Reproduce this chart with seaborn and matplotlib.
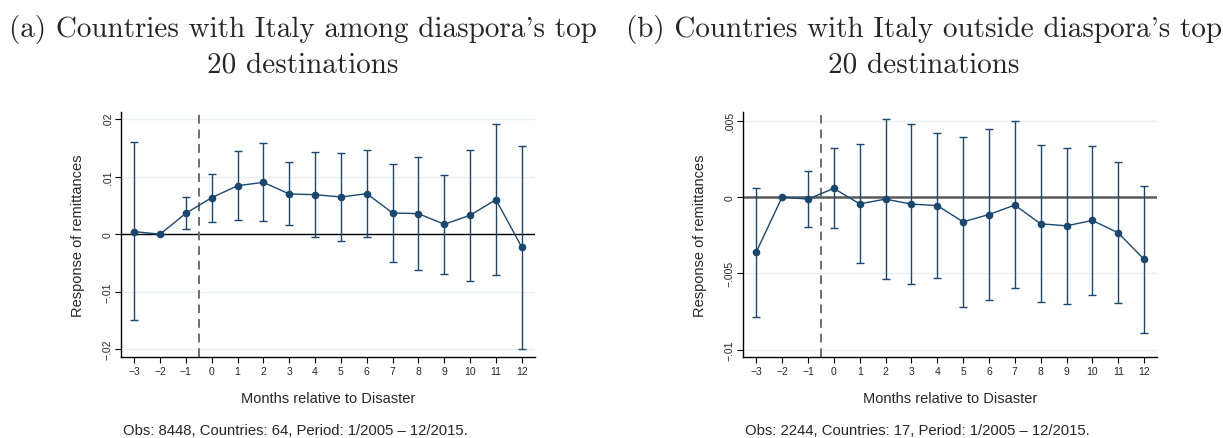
import numpy as np
import pandas as pd
import matplotlib
matplotlib.use("Agg")
import matplotlib.pyplot as plt
from matplotlib.ticker import FixedLocator, FuncFormatter
import seaborn as sns

# Event-study estimates: months relative to the disaster
months = [-3, -2, -1, 0, 1, 2, 3, 4, 5, 6, 7, 8, 9, 10, 11, 12]

# (a) Italy among the diaspora's top 20 destinations
coef_a = [0.00046, 0.0, 0.00364, 0.00636, 0.00844, 0.00902, 0.0070, 0.00688,
          0.00647, 0.00705, 0.0037, 0.00358, 0.00173, 0.0033, 0.00601, -0.00225]
hi_a = [0.0160, 0.0, 0.00653, 0.0105, 0.0144, 0.0158, 0.01249, 0.01434,
        0.01416, 0.01468, 0.0122, 0.01347, 0.01035, 0.01468, 0.01908, 0.01538]
lo_a = [-0.0150, 0.0, 0.00087, 0.0022, 0.00249, 0.00237, 0.00162, -0.0004,
        -0.00116, -0.00052, -0.0048, -0.00624, -0.00688, -0.0081, -0.00705, -0.01994]

# (b) Italy outside the diaspora's top 20 destinations
coef_b = [-0.0036, 0.0, -0.00013, 0.00057, -0.00044, -0.00013, -0.00046, -0.00055,
          -0.00162, -0.00114, -0.00052, -0.00175, -0.00188, -0.00153, -0.00234, -0.00408]
hi_b = [0.00063, 0.0, 0.00168, 0.00319, 0.00349, 0.00511, 0.0048, 0.00419,
        0.00397, 0.00448, 0.00496, 0.00343, 0.00325, 0.00334, 0.00231, 0.00076]
lo_b = [-0.00784, 0.0, -0.00194, -0.00201, -0.00432, -0.00539, -0.00568, -0.00528,
        -0.0072, -0.00672, -0.00598, -0.00688, -0.00699, -0.0064, -0.00697, -0.00891]

yticks_a = [-0.02, -0.01, 0.0, 0.01, 0.02]
yticks_b = [-0.01, -0.005, 0.0, 0.005]

title_a = ["(a) Countries with Italy among diaspora's top", "20 destinations"]
title_b = ["(b) Countries with Italy outside diaspora's top", "20 destinations"]
note_a = "Obs: 8448, Countries: 64, Period: 1/2005 \u2013 12/2015."
note_b = "Obs: 2244, Countries: 17, Period: 1/2005 \u2013 12/2015."

sns.set_theme(style="white")
plt.rcParams["font.family"] = ["Liberation Sans", "DejaVu Sans"]

NAVY = "#1a476f"
GRID = "#e8f0f2"


def stata_fmt(v, _pos=None):
    if abs(v) < 1e-12:
        return "0"
    s = f"{abs(v):g}"
    if s.startswith("0."):
        s = s[1:]
    return ("\u2212" if v < 0 else "") + s


def draw_panel(ax, coef, lo, hi, yticks, ylim, zero_style):
    df = pd.DataFrame({"month": months, "coef": coef, "lo": lo, "hi": hi})
    for t in yticks:
        ax.axhline(t, color=GRID, lw=1.0, zorder=0)
    ax.axhline(0, zorder=1, **zero_style)
    ax.axvline(-0.5, color="#6e6e6e", lw=1.4, ls=(0, (4.5, 3)), zorder=1)
    ax.errorbar(df["month"], df["coef"],
                yerr=[df["coef"] - df["lo"], df["hi"] - df["coef"]],
                fmt="none", ecolor=NAVY, elinewidth=1.0, capsize=3.2,
                capthick=1.0, zorder=2)
    sns.lineplot(data=df, x="month", y="coef", ax=ax, color=NAVY, lw=1.0,
                 marker="o", markersize=5.5, markeredgewidth=0, zorder=3)
    ax.set_xlim(-3.5, 12.5)
    ax.set_ylim(*ylim)
    ax.xaxis.set_major_locator(FixedLocator(months))
    ax.xaxis.set_major_formatter(FuncFormatter(lambda v, p: stata_fmt(v)))
    ax.yaxis.set_major_locator(FixedLocator(yticks))
    ax.yaxis.set_major_formatter(FuncFormatter(stata_fmt))
    ax.tick_params(axis="both", which="major", direction="out", length=4,
                   width=0.8, color="black", labelsize=7.5, pad=2,
                   bottom=True, left=True)
    for lab in ax.get_yticklabels():
        lab.set_rotation(90)
        lab.set_va("center")
    for side in ("top", "right"):
        ax.spines[side].set_visible(False)
    for side in ("left", "bottom"):
        ax.spines[side].set_color("black")
        ax.spines[side].set_linewidth(1.0)
    ax.set_xlabel("Months relative to Disaster", fontsize=10.5, labelpad=11)
    ax.set_ylabel("Response of remittances", fontsize=10.5, labelpad=13)


W, H = 1223, 439
fig = plt.figure(figsize=(W / 100, H / 100), dpi=100)
fig.patch.set_facecolor("white")

ax_a = fig.add_axes([121.3 / W, 1 - 358.3 / H, 413.4 / W, 245 / H])
ax_b = fig.add_axes([743.3 / W, 1 - 358.3 / H, 413.7 / W, 245.6 / H])

draw_panel(ax_a, coef_a, lo_a, hi_a, yticks_a, (-0.0214, 0.0212),
           dict(color="black", lw=1.0))
draw_panel(ax_b, coef_b, lo_b, hi_b, yticks_b, (-0.0105, 0.0056),
           dict(color="#5a5a5a", lw=1.8))

for cx, lines in ((303, title_a), (924, title_b)):
    fig.text(cx / W, 1 - 30 / H, lines[0], family="cmr10", fontsize=21,
             ha="center", va="center")
    fig.text(cx / W, 1 - 65 / H, lines[1], family="cmr10", fontsize=21,
             ha="center", va="center")

fig.text(123 / W, 1 - 431 / H, note_a, fontsize=10.7, ha="left", va="center")
fig.text(745 / W, 1 - 431 / H, note_b, fontsize=10.7, ha="left", va="center")

fig.savefig("out.png", dpi=100, facecolor="white")
